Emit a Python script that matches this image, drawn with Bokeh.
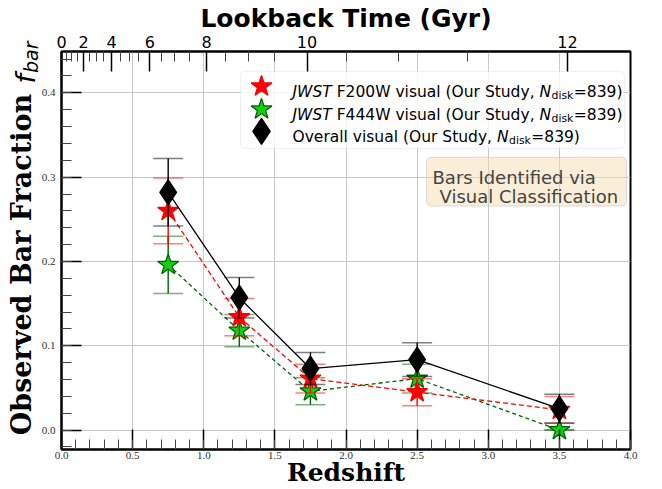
import numpy as np
from bokeh.plotting import figure
from bokeh.models import (Range1d, LinearAxis, FixedTicker, SingleIntervalTicker,
                          NumeralTickFormatter, Label, BoxAnnotation)
from bokeh.embed import file_html
from bokeh.resources import INLINE

# ---------------- data ----------------
redshift = [0.75, 1.25, 1.75, 2.5, 3.5]
fbar_overall = [0.282, 0.157, 0.073, 0.0835, 0.0255]
err_overall = [0.040, 0.024, 0.019, 0.020, 0.017]
fbar_f200w = [0.260, 0.134, 0.061, 0.045, 0.024]
err_f200w = [0.039, 0.022, 0.017, 0.016, 0.016]
fbar_f444w = [0.196, 0.118, 0.046, 0.061, 0.0]
err_f444w = [0.034, 0.019, 0.016, 0.017, 0.0]

lookback_major = [0, 2, 4, 6, 8, 10, 12]
lookback_minor = [t * 0.5 for t in range(0, 26) if (t * 0.5) not in lookback_major]

legend_prefix = ["JWST", "JWST", ""]
legend_body = ["F200W visual (Our Study,", "F444W visual (Our Study,", "Overall visual (Our Study,"]
legend_ndisk = [839, 839, 839]
box_lines = ["Bars Identified via", "Visual Classification"]

# ---------------- cosmology for top axis ----------------
H0, Om = 67.85, 0.31
t_hubble = 977.8 / H0
zg = np.linspace(0, 30, 300001)
integ = 1.0 / ((1 + zg) * np.sqrt(Om * (1 + zg) ** 3 + (1 - Om)))
tl = np.concatenate([[0], np.cumsum(0.5 * (integ[1:] + integ[:-1]) * np.diff(zg))]) * t_hubble
def z_of_t(t):
    return round(float(np.interp(t, tl, zg)), 6)
z_major = [z_of_t(t) for t in lookback_major]
z_minor = [z_of_t(t) for t in lookback_minor if z_of_t(t) < 4.0]

# ---------------- figure ----------------
FW, FH = 569, 399
p = figure(width=660, height=489, x_range=Range1d(0, 4), y_range=Range1d(-0.023, 0.449),
           output_backend="svg", toolbar_location=None,
           min_border_left=61, min_border_right=30, min_border_top=51, min_border_bottom=39)
p.extra_x_ranges = {"px": Range1d(0, FW)}
p.extra_y_ranges = {"py": Range1d(0, FH)}
p.outline_line_color = "black"
p.outline_line_width = 2
p.background_fill_color = "white"

tick_font = "Liberation Serif"
for ax in (p.xaxis[0], p.yaxis[0]):
    ax.axis_line_width = 2
    ax.major_tick_in = 20
    ax.major_tick_out = 0
    ax.minor_tick_in = 10
    ax.minor_tick_out = 0
    ax.major_tick_line_width = 1.5
    ax.minor_tick_line_width = 1
    ax.minor_tick_line_color = "#444444"
    ax.major_label_text_font = tick_font
    ax.major_label_text_font_size = "11px"
    ax.major_label_text_color = "#333333"
    ax.formatter = NumeralTickFormatter(format="0.0")
    ax.axis_label_text_font = "DejaVu Serif"
    ax.axis_label_text_font_style = "bold"
    ax.axis_label_text_color = "black"

p.xaxis[0].ticker = SingleIntervalTicker(interval=0.5, num_minor_ticks=5)
p.yaxis[0].ticker = SingleIntervalTicker(interval=0.1, num_minor_ticks=5)
p.xaxis[0].major_label_standoff = 2
p.yaxis[0].major_label_standoff = 6
p.xaxis[0].axis_label = "Redshift"
p.xaxis[0].axis_label_text_font_size = "25px"
p.xaxis[0].axis_label_standoff = -4
p.yaxis[0].axis_label = "Observed Bar Fraction" + "\u00a0" * 3
p.yaxis[0].axis_label_text_font_size = "27px"
p.yaxis[0].axis_label_standoff = 2

p.xgrid.ticker = SingleIntervalTicker(interval=0.5)
p.ygrid.ticker = SingleIntervalTicker(interval=0.1)
p.grid.grid_line_color = "#c8c8c8"
p.grid.grid_line_width = 1

top = LinearAxis(ticker=FixedTicker(ticks=z_major, minor_ticks=z_minor),
                 major_label_overrides={z: str(t) for z, t in zip(z_major, lookback_major)})
top.axis_line_width = 2
top.major_tick_in = 20
top.major_tick_out = 0
top.minor_tick_in = 10
top.minor_tick_out = 0
top.major_tick_line_width = 1.5
top.minor_tick_line_width = 1
top.minor_tick_line_color = "#444444"
top.major_label_text_font = "DejaVu Sans"
top.major_label_text_font_size = "16px"
top.major_label_text_color = "black"
top.major_label_standoff = 4
top.axis_label = "Lookback Time (Gyr)"
top.axis_label_text_font = "DejaVu Sans"
top.axis_label_text_font_style = "bold"
top.axis_label_text_font_size = "25px"
top.axis_label_text_color = "black"
top.axis_label_standoff = 0
p.add_layout(top, "above")

# f_bar part of the y label: label-only axes that overlap the first axis' label column
def label_axis(text, size, standoff):
    ax = LinearAxis(ticker=FixedTicker(ticks=[]), axis_label=text, axis_line_color=None,
                    major_tick_line_color=None, minor_tick_line_color=None,
                    major_tick_out=0, major_tick_in=0, minor_tick_out=0, minor_tick_in=0,
                    major_label_text_font_size="0px", axis_label_standoff=standoff,
                    axis_label_text_font="DejaVu Sans", axis_label_text_font_style="italic",
                    axis_label_text_font_size=size, axis_label_text_color="black")
    p.add_layout(ax, "left")
label_axis("\u00a0" * 40 + "f", "27px", -38)
label_axis("\u00a0" * 64 + "bar", "19px", -39)

# ---------------- data series ----------------
series = [
    (fbar_f444w, err_f444w, "darkgreen", "#14d014", "darkgreen", "star", 22, "4 3"),
    (fbar_f200w, err_f200w, "red", "red", "red", "star", 22, "5 3"),
    (fbar_overall, err_overall, "black", "black", "black", "diamond", 25, "solid"),
]
for vals, errs, lc, fc, ec, mk, sz, dash in series:
    lo = [v - e for v, e in zip(vals, errs)]
    hi = [v + e for v, e in zip(vals, errs)]
    p.line(redshift, vals, line_color=lc, line_width=1.3, line_dash=dash)
    p.segment(x0=redshift, y0=lo, x1=redshift, y1=hi, line_color=lc, line_width=1.4)
    p.scatter(redshift, lo, marker="dash", size=30, line_color=lc, line_alpha=0.5, line_width=1.5)
    p.scatter(redshift, hi, marker="dash", size=30, line_color=lc, line_alpha=0.5, line_width=1.5)
    p.scatter(redshift, vals, marker=mk, size=sz, fill_color=fc, line_color=ec, line_width=1.3)

# ---------------- legend (pixel coordinates inside frame) ----------------
W = {' ': .318, '(': .390, ')': .390, ',': .318, '=': .838, 'F': .575, 'W': .989, 'J': .295,
     'S': .635, 'T': .611, 'N': .748, 'O': .787, 'a': .613, 'd': .635, 'i': .278, 'k': .579,
     'l': .278, 'r': .411, 's': .521, 't': .392, 'u': .634, 'v': .592, 'y': .592, 'e': .615,
     'n': .634, 'c': .550, 'f': .352, 'o': .612, 'h': .634, 'b': .635}
def tw(s, size):
    return sum(W.get(c, .636) for c in s) * size

leg_box = BoxAnnotation(left=179, right=563, bottom=302, top=379, x_range_name="px", y_range_name="py",
                        fill_color="white", fill_alpha=0.8, line_color="#cccccc", line_width=1,
                        border_radius=4, level="underlay")
p.add_layout(leg_box)
rows = [364, 341, 319]
mx, tx = 200, 231
FS, SS = 15.5, 10.8
leg_styles = [("star", 22, "red", "red"), ("star", 22, "#14d014", "darkgreen"), ("diamond", 26, "black", "black")]
for (mk, sz, fc, ec), ry in zip(leg_styles, rows):
    p.scatter([mx], [ry], marker=mk, size=sz, fill_color=fc, line_color=ec, line_width=1.3,
              x_range_name="px", y_range_name="py")
for pre, body, nd, ry in zip(legend_prefix, legend_body, legend_ndisk, rows):
    base = ry - 5.5
    x = tx
    common = dict(x_range_name="px", y_range_name="py", text_font="DejaVu Sans",
                  text_baseline="alphabetic", text_color="black")
    if pre:
        p.add_layout(Label(x=x, y=base, text=pre, text_font_style="italic", text_font_size=f"{FS}px", **common))
        x += tw(pre + " ", FS)
    p.add_layout(Label(x=x, y=base, text=body, text_font_size=f"{FS}px", **common))
    x += tw(body + " ", FS)
    p.add_layout(Label(x=x, y=base, text="N", text_font_style="italic", text_font_size=f"{FS}px", **common))
    x += tw("N", FS) + 0.5
    p.add_layout(Label(x=x, y=base - 3.5, text="disk", text_font_size=f"{SS}px", **common))
    x += tw("disk", SS) + 0.5
    p.add_layout(Label(x=x, y=base, text=f"={nd})", text_font_size=f"{FS}px", **common))

# ---------------- text box ----------------
tbox = BoxAnnotation(left=365, right=565, bottom=244, top=293, x_range_name="px", y_range_name="py",
                     fill_color="#F5DEB3", fill_alpha=0.5, line_color="#999999", line_width=1,
                     border_radius=5, level="underlay")
p.add_layout(tbox)
for txt, lx, ly in zip(box_lines, [371, 378], [272.5, 253.5]):
    p.add_layout(Label(x=lx, y=ly, text=txt, x_range_name="px", y_range_name="py",
                       text_font="DejaVu Sans", text_font_size="18px", text_baseline="alphabetic"))

open("out.html", "w").write(file_html(p, INLINE))
